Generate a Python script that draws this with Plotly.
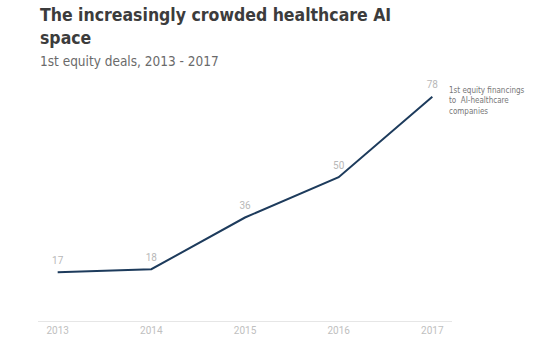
import plotly.graph_objects as go

years = [2013, 2014, 2015, 2016, 2017]
deals = [17, 18, 36, 50, 78]
tick_labels = ["2013", "2014", "2015", "2016", "2017"]

COND = "DejaVu Sans Condensed, Roboto, sans-serif"

fig = go.Figure()
fig.add_trace(go.Scatter(
    x=years, y=deals, mode="lines+markers+text",
    text=[str(v) for v in deals], textposition="top center",
    textfont=dict(family="Roboto", size=10, color="#b8b8b8"),
    line=dict(color="#1d3b5c", width=2),
    marker=dict(size=8, opacity=0),
    cliponaxis=False, hoverinfo="skip", showlegend=False,
))

fig.update_layout(
    width=554, height=351,
    margin=dict(l=38, r=102, t=91, b=30),
    paper_bgcolor="white", plot_bgcolor="white",
    xaxis=dict(range=[2012.79, 2017.21], tickvals=years, ticktext=tick_labels,
               showgrid=False, zeroline=False, showline=True, linecolor="#e6e6e6",
               tickfont=dict(family="Roboto", size=10, color="#c0c0c0"), ticks=""),
    yaxis=dict(range=[0, 80], visible=False),
    annotations=[
        dict(text="<b>The increasingly crowded healthcare AI<br>space</b>", xref="paper", yref="paper",
             x=0.0, y=1.0, xanchor="left", yanchor="top", align="left",
             yshift=88, showarrow=False,
             font=dict(family=COND, size=17.5, color="#3c3c3c")),
        dict(text="1st equity deals, 2013 - 2017", xref="paper", yref="paper",
             x=0.0, y=1.0, xanchor="left", yanchor="top", align="left",
             yshift=40, showarrow=False,
             font=dict(family=COND, size=13.5, color="#6a6a6a")),
        dict(text="1st equity financings<br>to  AI-healthcare<br>companies", xref="paper", yref="paper",
             x=0.988, y=1.0, xanchor="left", yanchor="top", align="left", showarrow=False,
             yshift=7,
             font=dict(family=COND, size=8, color="#777777")),
    ],
)

fig.write_html("out.html")
